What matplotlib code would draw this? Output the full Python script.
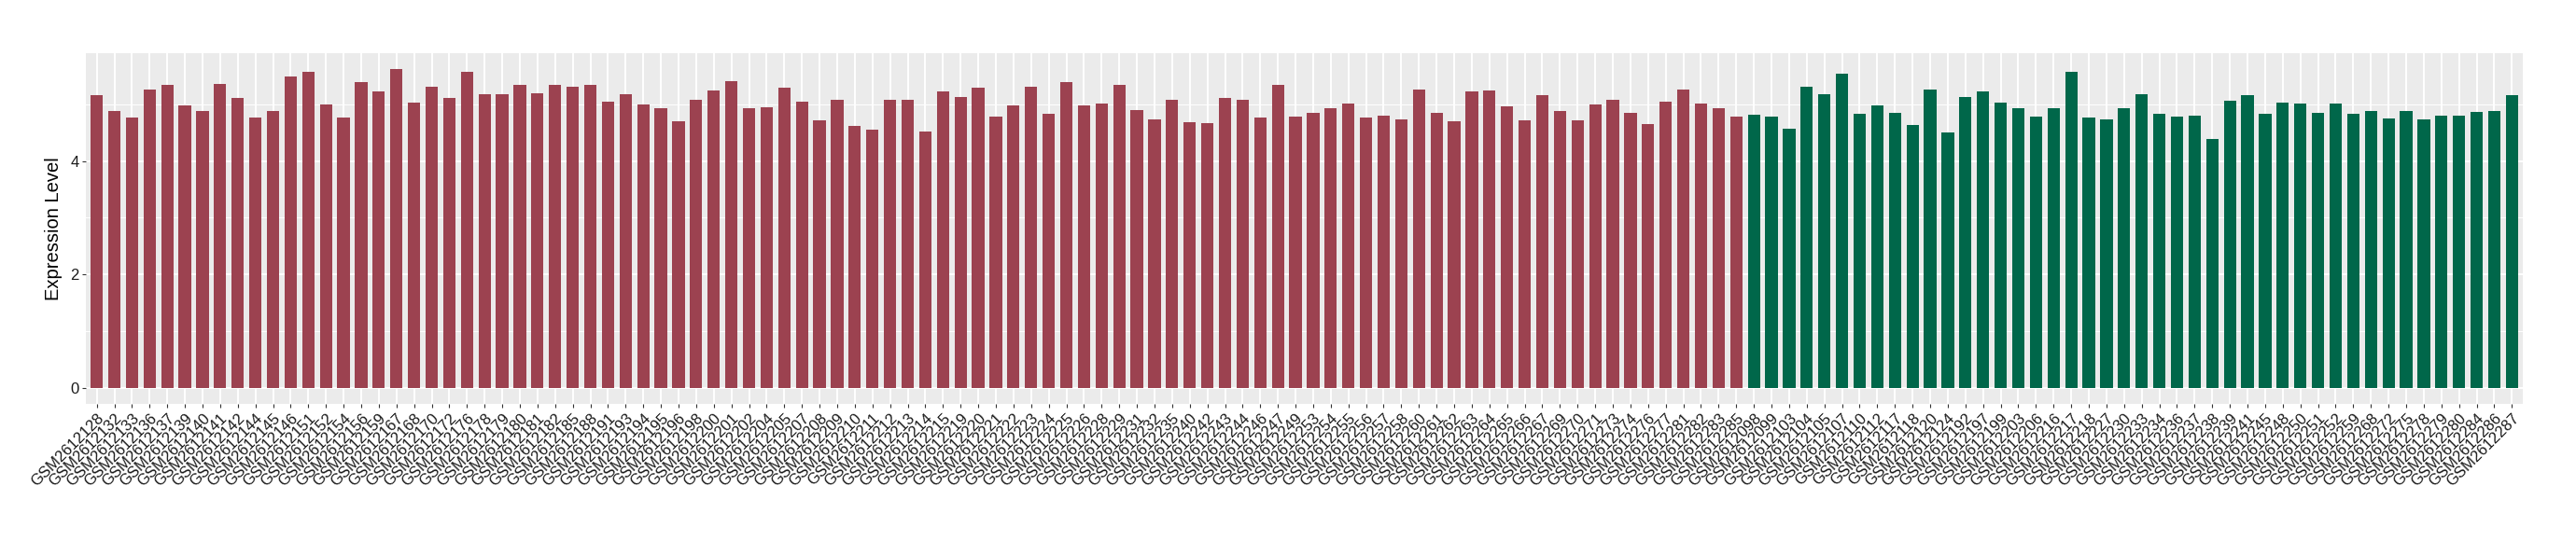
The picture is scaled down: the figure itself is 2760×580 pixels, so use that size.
import numpy as np
import matplotlib
matplotlib.use("Agg")
import matplotlib.pyplot as plt
from matplotlib.ticker import MultipleLocator

# Muestras del grupo 1 (rojo) y grupo 2 (verde)
grupo1_ids = [128, 132, 133, 136, 137, 139, 140, 141, 142, 144, 145,
              146, 151, 152, 154, 156, 159, 167, 168, 170, 172, 176, 178, 179,
              180, 181, 182, 185, 188, 191, 193, 194, 195, 196, 198, 200, 201,
              202, 204, 205, 207, 208, 209, 210, 211, 212, 213, 214, 215,
              219, 220, 221, 222, 223, 224, 225, 226, 228, 229, 231, 232, 235,
              240, 242, 243, 244, 246, 247, 249, 253, 254, 255, 256, 257,
              258, 260, 261, 262, 263, 264, 265, 266, 267, 269, 270, 271, 273,
              274, 276, 277, 281, 282, 283, 285]
grupo1_vals = [5.16, 4.88, 4.77, 5.26, 5.33, 4.98, 4.88, 5.36, 5.10, 4.77, 4.88,
               5.49, 5.57, 5.00, 4.77, 5.39, 5.23, 5.62, 5.03, 5.31, 5.10, 5.57, 5.18, 5.18,
               5.33, 5.19, 5.33, 5.31, 5.33, 5.05, 5.18, 5.00, 4.93, 4.70, 5.08, 5.24, 5.41,
               4.92, 4.95, 5.29, 5.05, 4.72, 5.08, 4.62, 4.55, 5.08, 5.08, 4.52, 5.23,
               5.13, 5.29, 4.78, 4.98, 5.31, 4.83, 5.39, 4.98, 5.01, 5.33, 4.90, 4.73, 5.08,
               4.68, 4.67, 5.11, 5.08, 4.77, 5.33, 4.78, 4.85, 4.93, 5.01, 4.77, 4.80,
               4.73, 5.26, 4.85, 4.70, 5.23, 5.24, 4.96, 4.72, 5.16, 4.88, 4.72, 5.00, 5.08,
               4.85, 4.65, 5.05, 5.26, 5.01, 4.93, 4.78]

grupo2_ids = [98, 99, 103, 104, 105, 107,
              110, 112, 117, 118, 120, 124, 192, 197, 199, 203, 206, 216, 217,
              218, 227, 230, 233, 234, 236, 237, 238, 239, 241, 245, 248,
              250, 251, 252, 259, 268, 272, 275, 278, 279, 280, 284, 286, 287]
grupo2_vals = [4.82, 4.78, 4.57, 5.31, 5.18, 5.54,
               4.83, 4.98, 4.85, 4.64, 5.26, 4.50, 5.13, 5.23, 5.03, 4.92, 4.78, 4.93, 5.57,
               4.77, 4.73, 4.93, 5.18, 4.83, 4.78, 4.80, 4.39, 5.06, 5.15, 4.83, 5.03,
               5.01, 4.85, 5.01, 4.83, 4.88, 4.75, 4.88, 4.73, 4.80, 4.80, 4.87, 4.88, 5.15]

color1 = "#9C4250"
color2 = "#00674A"

etiquetas = ["GSM2612%03d" % i for i in grupo1_ids + grupo2_ids]
valores = np.array(grupo1_vals + grupo2_vals)
colores = [color1] * len(grupo1_ids) + [color2] * len(grupo2_ids)
x = np.arange(len(etiquetas))

fig = plt.figure(figsize=(27.6, 5.8), dpi=100)
ax = fig.add_axes([92.3 / 2760, 1 - 433.3 / 580, (2702.7 - 92.3) / 2760, (433.3 - 56.7) / 580])

ax.set_facecolor("#EBEBEB")
ax.set_axisbelow(True)
ax.bar(x, valores, width=0.7, color=colores, zorder=2)

vmax = valores.max()
ax.set_ylim(-0.05 * vmax, vmax * 1.05)
ax.set_xlim(-0.6, len(x) - 1 + 0.6)

ax.set_yticks([0, 2, 4])
ax.yaxis.set_minor_locator(MultipleLocator(1))
ax.set_xticks(x)
ax.set_xticklabels(etiquetas, rotation=45, ha="right", va="top",
                   rotation_mode="anchor", fontsize=12, color="#1A1A1A",
                   family="Liberation Sans")
for t in ax.get_yticklabels():
    t.set_fontsize(12)
    t.set_color("#1A1A1A")
    t.set_family("Liberation Sans")

ax.grid(which="major", color="white", linewidth=1.4)
ax.grid(which="minor", axis="y", color="white", linewidth=0.7)
ax.tick_params(which="major", length=3, width=0.8, color="#333333", pad=2.5)
ax.tick_params(which="minor", length=0)
for s in ax.spines.values():
    s.set_visible(False)

ax.set_ylabel("Expression Level", fontsize=14.5, family="Liberation Sans", labelpad=6)

fig.savefig("out.png", dpi=100)
